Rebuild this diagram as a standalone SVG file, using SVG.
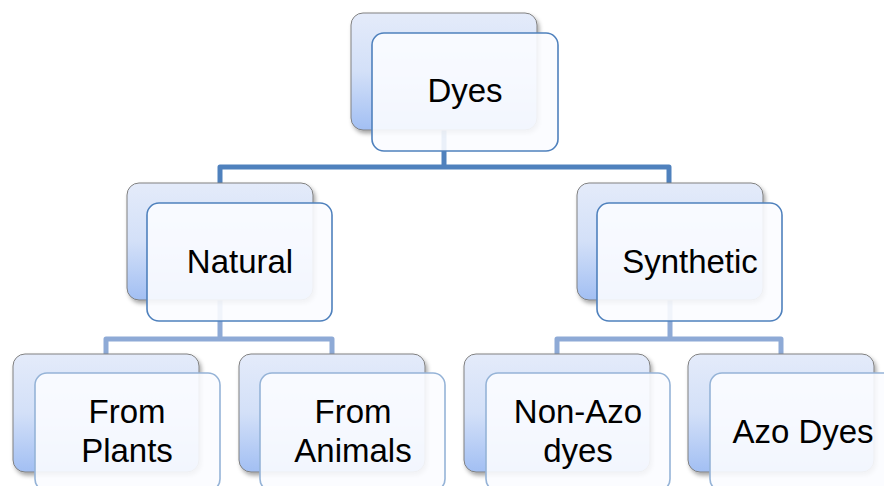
<svg xmlns="http://www.w3.org/2000/svg" width="884" height="486" viewBox="0 0 884 486">
<defs>
<linearGradient id="bg" x1="0" y1="0" x2="0" y2="1">
<stop offset="0" stop-color="#e4ebfa"/>
<stop offset="0.5" stop-color="#d3e0f8"/>
<stop offset="1" stop-color="#a2bff3"/>
</linearGradient>
<filter id="sh" x="-10%" y="-10%" width="130%" height="130%">
<feDropShadow dx="2" dy="3" stdDeviation="2" flood-color="#000" flood-opacity="0.35"/>
</filter>
</defs>
<style>
.back{fill:url(#bg);stroke:#808080;stroke-width:1;filter:url(#sh)}
.front{fill:#fbfcff;fill-opacity:0.9;stroke:#4f81bd;stroke-width:1.6}
.front2{fill:#fbfcff;fill-opacity:0.9;stroke:#95b3d7;stroke-width:1.6}
.c1{fill:none;stroke:#4f81bd;stroke-width:5;stroke-linejoin:round}
.c2{fill:none;stroke:#8eaad6;stroke-width:5;stroke-linejoin:round}
text{font-family:"Liberation Sans",Arial,sans-serif;font-size:33px;fill:#000;text-anchor:middle}
</style>
<g id="connectors">
<path class="c1" d="M444 130 V167 M220 183 V167 H669 V183"/>
<path class="c2" d="M220 300 V339 M106 354 V339 H332 V354"/>
<path class="c2" d="M670 300 V339 M557 354 V339 H781 V354"/>
</g>
<g id="dyes">
<rect class="back" x="351" y="13" width="186" height="117" rx="12"/>
<rect class="front" x="372" y="33" width="186" height="118" rx="12"/>
<text x="465" y="102">Dyes</text>
</g>
<g id="natural">
<rect class="back" x="127" y="183" width="186" height="117" rx="12"/>
<rect class="front" x="147" y="203" width="185" height="118" rx="12"/>
<text x="240" y="273">Natural</text>
</g>
<g id="synthetic">
<rect class="back" x="577" y="183" width="186" height="117" rx="12"/>
<rect class="front" x="597" y="203" width="185" height="118" rx="12"/>
<text x="690" y="273">Synthetic</text>
</g>
<g id="from-plants">
<rect class="back" x="13" y="354" width="186" height="118" rx="12"/>
<rect class="front2" x="35" y="373" width="185" height="118" rx="12"/>
<text x="127" y="423">From</text>
<text x="127" y="462">Plants</text>
</g>
<g id="from-animals">
<rect class="back" x="239" y="354" width="186" height="118" rx="12"/>
<rect class="front2" x="260" y="373" width="185" height="118" rx="12"/>
<text x="353" y="423">From</text>
<text x="353" y="462">Animals</text>
</g>
<g id="non-azo">
<rect class="back" x="464" y="354" width="186" height="118" rx="12"/>
<rect class="front2" x="486" y="373" width="184" height="118" rx="12"/>
<text x="578" y="423">Non-Azo</text>
<text x="578" y="462">dyes</text>
</g>
<g id="azo">
<rect class="back" x="688" y="354" width="186" height="118" rx="12"/>
<rect class="front2" x="710" y="373" width="186" height="118" rx="12"/>
<text x="803" y="443">Azo Dyes</text>
</g>
</svg>
